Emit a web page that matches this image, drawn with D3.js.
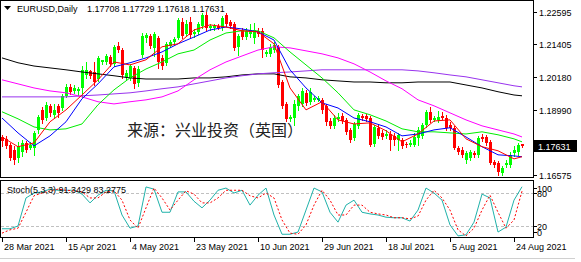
<!DOCTYPE html>
<html>
<head>
<meta charset="utf-8">
<script src="https://cdn.jsdelivr.net/npm/d3@7"></script>
<style>
  html, body { margin: 0; padding: 0; background: #fff; }
  svg { display: block; }
  text { font-family: "Liberation Sans", Arial, sans-serif; font-size: 9px; fill: #000; }
</style>
</head>
<body>
<div id="chart"></div>
<script>
// EURUSD daily bars, 28 Mar 2021 .. 26 Aug 2021 (one bar per trading day incl. Sunday)
var opens = [1.1798,1.1791,1.1769,1.1750,1.1721,1.1743,1.1776,1.1758,1.1758,1.1824,1.1898,1.1868,1.1913,1.1880,1.1913,1.1905,1.1950,1.1983,1.1968,1.1968,
  1.1979,1.2027,1.2042,1.2038,1.2012,1.2075,1.2075,1.2094,1.2068,1.2134,1.2119,1.2020,1.2016,1.2053,1.1998,1.2101,1.2164,1.2171,1.2127,1.2164,
  1.2090,1.2072,1.2134,1.2149,1.2164,1.2223,1.2179,1.2223,1.2179,1.2186,1.2208,1.2249,1.2201,1.2201,1.2208,1.2201,1.2249,1.2223,1.2215,1.2131,
  1.2193,1.2167,1.2179,1.2164,1.2190,1.2190,1.2105,1.2105,1.2119,1.2131,1.2001,1.1920,1.1865,1.1868,1.1913,1.1920,1.1961,1.1928,1.1935,1.1935,
  1.1935,1.1913,1.1857,1.1839,1.1865,1.1876,1.1861,1.1824,1.1795,1.1839,1.1876,1.1876,1.1868,1.1773,1.1832,1.1813,1.1802,1.1809,1.1802,1.1787,
  1.1787,1.1773,1.1769,1.1769,1.1795,1.1802,1.1843,1.1891,1.1861,1.1861,1.1876,1.1868,1.1843,1.1832,1.1758,1.1750,1.1714,1.1721,1.1739,1.1732,
  1.1798,1.1798,1.1780,1.1706,1.1703,1.1666,1.1695,1.1695,1.1739,1.1743,1.17708];
var highs = [1.1806,1.1802,1.1776,1.1765,1.1780,1.1787,1.1784,1.1780,1.1821,1.1880,1.1909,1.1928,1.1920,1.1920,1.1920,1.1957,1.1994,1.1994,1.1990,1.1983,
  1.2060,1.2075,1.2046,1.2075,1.2097,1.2083,1.2105,1.2101,1.2138,1.2149,1.2127,1.2046,1.2068,1.2060,1.2060,1.2182,1.2182,1.2179,1.2186,1.2171,
  1.2101,1.2149,1.2156,1.2167,1.2238,1.2238,1.2230,1.2241,1.2197,1.2223,1.2256,1.2260,1.2215,1.2215,1.2215,1.2245,1.2256,1.2230,1.2223,1.2179,
  1.2201,1.2201,1.2215,1.2219,1.2201,1.2201,1.2119,1.2142,1.2149,1.2138,1.2009,1.1928,1.1880,1.1935,1.1957,1.1979,1.1972,1.1979,1.1950,1.1950,
  1.1942,1.1920,1.1868,1.1880,1.1887,1.1887,1.1868,1.1832,1.1854,1.1887,1.1883,1.1883,1.1876,1.1843,1.1846,1.1824,1.1824,1.1821,1.1813,1.1813,
  1.1795,1.1780,1.1787,1.1813,1.1835,1.1850,1.1898,1.1909,1.1876,1.1894,1.1891,1.1880,1.1854,1.1839,1.1765,1.1762,1.1747,1.1750,1.1747,1.1802,
  1.1809,1.1806,1.1787,1.1714,1.1710,1.1691,1.1714,1.1743,1.1765,1.1776,1.17729];
var lows = [1.1765,1.1758,1.1714,1.1699,1.1706,1.1728,1.1743,1.1754,1.1732,1.1813,1.1850,1.1861,1.1876,1.1868,1.1872,1.1898,1.1946,1.1957,1.1961,1.1953,
  1.1946,1.2016,1.2016,1.1990,1.2005,1.2068,1.2068,1.2060,1.2060,1.2112,1.2016,1.2009,1.2009,1.1979,1.1987,1.2094,1.2149,1.2127,1.2097,1.2053,
  1.2049,1.2064,1.2131,1.2142,1.2160,1.2164,1.2175,1.2167,1.2167,1.2179,1.2201,1.2193,1.2193,1.2193,1.2197,1.2193,1.2208,1.2201,1.2119,1.2101,
  1.2160,1.2160,1.2167,1.2145,1.2171,1.2094,1.2097,1.2097,1.2112,1.1983,1.1905,1.1857,1.1857,1.1843,1.1898,1.1913,1.1917,1.1920,1.1931,1.1931,
  1.1887,1.1843,1.1832,1.1832,1.1857,1.1850,1.1809,1.1780,1.1787,1.1832,1.1861,1.1857,1.1765,1.1765,1.1795,1.1791,1.1795,1.1750,1.1769,1.1750,
  1.1758,1.1762,1.1765,1.1765,1.1769,1.1795,1.1835,1.1854,1.1857,1.1854,1.1865,1.1824,1.1824,1.1754,1.1736,1.1725,1.1703,1.1714,1.1725,1.1725,
  1.1784,1.1769,1.1699,1.1688,1.1658,1.1658,1.1688,1.1688,1.1728,1.1732,1.17618];
var closes = [1.1784,1.1765,1.1721,1.1714,1.1765,1.1776,1.1750,1.1769,1.1813,1.1872,1.1861,1.1917,1.1887,1.1898,1.1887,1.1950,1.1983,1.1965,1.1979,1.1976,
  1.2046,1.2046,1.2024,1.2001,1.2090,1.2083,1.2097,1.2068,1.2131,1.2119,1.2027,1.2035,1.2060,1.1994,1.2049,1.2171,1.2175,1.2134,1.2179,1.2075,
  1.2060,1.2142,1.2149,1.2160,1.2230,1.2171,1.2215,1.2175,1.2186,1.2215,1.2249,1.2201,1.2208,1.2208,1.2201,1.2238,1.2215,1.2208,1.2127,1.2171,
  1.2167,1.2190,1.2193,1.2193,1.2179,1.2119,1.2112,1.2131,1.2138,1.1990,1.1913,1.1865,1.1872,1.1920,1.1950,1.1968,1.1924,1.1965,1.1942,1.1942,
  1.1898,1.1854,1.1839,1.1868,1.1872,1.1857,1.1817,1.1787,1.1846,1.1880,1.1868,1.1865,1.1769,1.1835,1.1802,1.1798,1.1809,1.1787,1.1787,1.1806,
  1.1765,1.1769,1.1776,1.1798,1.1824,1.1843,1.1891,1.1861,1.1868,1.1872,1.1868,1.1832,1.1832,1.1758,1.1743,1.1732,1.1739,1.1743,1.1732,1.1795,
  1.1791,1.1776,1.1703,1.1695,1.1669,1.1684,1.1703,1.1732,1.1750,1.1769,1.17631];

// moving averages every 4th bar (last point = last bar)
var maBars = [0,4,8,12,16,20,24,28,32,36,40,44,48,52,56,60,64,68,72,76,80,84,88,92,96,100,104,108,112,116,120,124,128,130];
var maRed = [1.1798,1.1762,1.1776,1.1854,1.1898,1.1953,1.2009,1.2075,1.2064,1.2083,1.2131,1.2142,1.2193,1.2212,1.2204,1.2190,1.2186,1.2142,1.1979,1.1898,
  1.1928,1.1861,1.1846,1.1850,1.1821,1.1780,1.1809,1.1857,1.1861,1.1791,1.1762,1.1747,1.1717,1.1725];
var maBlue = [1.1868,1.1813,1.1765,1.1802,1.1854,1.1939,1.1994,1.2057,1.2072,1.2090,1.2112,1.2142,1.2167,1.2193,1.2204,1.2197,1.2186,1.2156,1.2046,1.1979,
  1.1924,1.1905,1.1868,1.1854,1.1835,1.1802,1.1809,1.1824,1.1832,1.1798,1.1762,1.1732,1.1728,1.1725];
var maGreen = [1.1891,1.1865,1.1835,1.1824,1.1828,1.1846,1.1917,1.1972,1.2016,1.2049,1.2075,1.2105,1.2119,1.2156,1.2182,1.2190,1.2190,1.2164,1.2112,1.2064,
  1.2016,1.1961,1.1898,1.1880,1.1857,1.1828,1.1817,1.1817,1.1813,1.1809,1.1817,1.1806,1.1791,1.1780];
var maMagenta = [1.2009,1.1994,1.1979,1.1968,1.1961,1.1946,1.1928,1.1920,1.1928,1.1935,1.1946,1.1968,1.2009,1.2046,1.2075,1.2097,1.2119,1.2131,1.2127,1.2116,
  1.2105,1.2090,1.2068,1.2038,1.2005,1.1976,1.1935,1.1913,1.1887,1.1861,1.1839,1.1824,1.1809,1.1798];
var maPurple = [1.1946,1.1946,1.1946,1.1946,1.1946,1.1950,1.1953,1.1957,1.1961,1.1968,1.1976,1.1983,1.1994,1.2005,1.2016,1.2024,1.2031,1.2035,1.2038,1.2042,
  1.2046,1.2046,1.2046,1.2046,1.2046,1.2046,1.2042,1.2035,1.2027,1.2020,1.2009,1.1998,1.1987,1.1983];
var maBlack = [1.2090,1.2072,1.2060,1.2053,1.2046,1.2038,1.2031,1.2024,1.2016,1.2012,1.2012,1.2012,1.2016,1.2016,1.2020,1.2027,1.2031,1.2031,1.2020,1.2016,
  1.2009,1.2005,1.2001,1.2001,1.1998,1.1998,1.2001,1.2001,1.2001,1.1990,1.1979,1.1965,1.1953,1.1950];

// Stochastic(5,3,3), read every 2nd bar
var stochMain = [15,15,20,71,80,82,87,85,85,85,78,62,76,85,84,40,16,20,91,87,45,45,82,82,65,53,67,85,89,80,85,58,76,89,40,5,5,9,49,89,
  82,45,27,58,67,45,42,40,36,35,35,29,49,89,80,67,22,2,4,27,78,71,9,18,67,91.3429];
var stochSignal = [7,13,16,45,75,80,84,87,85,84,82,71,71,82,84,67,31,16,53,89,71,49,67,84,78,62,62,71,85,85,85,75,71,80,71,31,7,5,22,58,
  85,67,40,40,58,58,45,42,40,35,35,33,38,67,85,71,49,13,2,16,49,76,45,16,31,83.2775];

var priceTicks = [1.22595, 1.21405, 1.20180, 1.18990, 1.17765, 1.16575];
var stochTicks = [100, 80, 20, 0];
var stochLevels = [80, 20];
var dateLabels = ["28 Mar 2021","15 Apr 2021","4 May 2021","23 May 2021","10 Jun 2021","29 Jun 2021","18 Jul 2021","5 Aug 2021","24 Aug 2021"];
var dateBars = [0,16,32,48,64,80,96,112,128];

var W = 581, H = 262;
var frameRight = 533;

var svg = d3.select('#chart').append('svg')
    .attr('width', W)
    .attr('height', H);

var x = d3.scaleLinear().domain([0, 130]).range([2, 522]);
var y = d3.scaleLinear().domain([1.16575, 1.22595]).range([175, 12]);
var ys = d3.scaleLinear().domain([0, 100]).range([237, 182]);

// frames
svg.append('rect').attr('x', 0.5).attr('y', 0.5).attr('width', frameRight).attr('height', 177)
    .attr('fill', 'none').attr('stroke', '#000');
svg.append('rect').attr('x', 0.5).attr('y', 180.5).attr('width', frameRight).attr('height', 57)
    .attr('fill', 'none').attr('stroke', '#000');

// watermark
svg.append('text')
    .attr('x', 127).attr('y', 136)
    .style('font-family', '"Noto Sans CJK SC", sans-serif')
    .style('font-size', '16px')
    .style('fill', '#222')
    .text('来源：兴业投资（英国）');

// candles
var bars = d3.range(opens.length);
var candles = svg.append('g');
candles.selectAll('line')
    .data(bars).enter().append('line')
    .attr('x1', function(i){ return Math.round(x(i)) + 0.5; })
    .attr('x2', function(i){ return Math.round(x(i)) + 0.5; })
    .attr('y1', function(i){ return Math.round(y(highs[i])); })
    .attr('y2', function(i){ return Math.round(y(lows[i])) + 1; })
    .attr('stroke', function(i){ return closes[i] >= opens[i] ? '#00ff00' : '#ff0000'; });
candles.selectAll('rect')
    .data(bars).enter().append('rect')
    .attr('x', function(i){ return Math.round(x(i)) - 1; })
    .attr('width', 3)
    .attr('y', function(i){ return Math.round(y(Math.max(opens[i], closes[i]))); })
    .attr('height', function(i){ return Math.max(1, Math.round(y(Math.min(opens[i], closes[i]))) - Math.round(y(Math.max(opens[i], closes[i])))); })
    .attr('fill', function(i){ return closes[i] >= opens[i] ? '#00ff00' : '#ff0000'; });

// moving averages
var maLine = d3.line()
    .x(function(d, i){ return x(maBars[i]); })
    .y(function(d){ return y(d); });
[[maBlack, '#000000'], [maPurple, '#9933ee'], [maMagenta, '#ff00ff'], [maGreen, '#00ee00'], [maBlue, '#0000ff'], [maRed, '#ff0000']]
  .forEach(function(m){
    svg.append('path').attr('d', maLine(m[0]))
        .attr('fill', 'none').attr('stroke', m[1]).attr('stroke-width', 1);
  });

// title
svg.append('path').attr('d', 'M4,6 L11,6 L7.5,10 Z').attr('fill', '#000');
svg.append('text').attr('x', 17).attr('y', 12).text('EURUSD,Daily');
svg.append('text').attr('x', 87).attr('y', 12)
    .text(opens[130].toFixed(5) + ' ' + highs[130].toFixed(5) + ' ' + lows[130].toFixed(5) + ' ' + closes[130].toFixed(5));

// price axis
var pa = svg.append('g');
pa.selectAll('line').data(priceTicks).enter().append('line')
    .attr('x1', frameRight + 0.5).attr('x2', frameRight + 4)
    .attr('y1', function(d){ return Math.round(y(d)) + 0.5; })
    .attr('y2', function(d){ return Math.round(y(d)) + 0.5; })
    .attr('stroke', '#000');
pa.selectAll('text').data(priceTicks).enter().append('text')
    .attr('x', 539)
    .attr('y', function(d){ return Math.round(y(d)) + 3.5; })
    .text(function(d){ return d.toFixed(5); });

// current price tag
var lastY = Math.round(y(closes[130]));
svg.append('rect').attr('x', 534).attr('y', lastY - 6).attr('width', 43).attr('height', 12).attr('fill', '#000');
svg.append('text').attr('x', 538).attr('y', lastY + 3.5).style('fill', '#fff').text(closes[130].toFixed(5));

// stochastic levels
svg.selectAll('line.level').data(stochLevels).enter().append('line')
    .attr('class', 'level')
    .attr('x1', 1).attr('x2', frameRight)
    .attr('y1', function(d){ return Math.round(ys(d)) + 0.5; })
    .attr('y2', function(d){ return Math.round(ys(d)) + 0.5; })
    .attr('stroke', '#c0c0c0').attr('stroke-dasharray', '3,2');

var stLine = d3.line()
    .x(function(d, i){ return x(i * 2); })
    .y(function(d){ return ys(d); });
svg.append('path').attr('d', stLine(stochMain))
    .attr('fill', 'none').attr('stroke', '#20b2aa').attr('stroke-width', 1);
svg.append('path').attr('d', stLine(stochSignal))
    .attr('fill', 'none').attr('stroke', '#ff0000').attr('stroke-width', 1).attr('stroke-dasharray', '2,2');

svg.append('text').attr('x', 7).attr('y', 193)
    .text('Stoch(5,3,3) ' + stochMain[stochMain.length - 1].toFixed(4) + ' ' + stochSignal[stochSignal.length - 1].toFixed(4));

// scale labels of the subwindow: max and min are drawn inside the window
function stochLabelY(d){
  var p = Math.round(ys(d));
  if (d === 100) return p + 6;
  if (d === 0) return p - 5;
  return p;
}
var sa = svg.append('g');
sa.selectAll('line').data(stochTicks).enter().append('line')
    .attr('x1', frameRight + 0.5).attr('x2', frameRight + 4)
    .attr('y1', function(d){ return stochLabelY(d) + 0.5; })
    .attr('y2', function(d){ return stochLabelY(d) + 0.5; })
    .attr('stroke', '#000');
sa.selectAll('text').data(stochTicks).enter().append('text')
    .attr('x', 537)
    .attr('y', function(d){ return stochLabelY(d) + 3.5; })
    .text(function(d){ return d; });

// time axis
var ta = svg.append('g');
ta.selectAll('line').data(dateBars).enter().append('line')
    .attr('x1', function(d){ return Math.round(x(d)) + 0.5; })
    .attr('x2', function(d){ return Math.round(x(d)) + 0.5; })
    .attr('y1', 238).attr('y2', 242)
    .attr('stroke', '#000');
ta.selectAll('text').data(dateBars).enter().append('text')
    .attr('x', function(d){ return Math.round(x(d)) + 2; })
    .attr('y', 250)
    .text(function(d, i){ return dateLabels[i]; });

svg.append('line').attr('x1', 0).attr('x2', 575).attr('y1', 258.5).attr('y2', 258.5)
    .attr('stroke', '#d0d0d0');
</script>
</body>
</html>
